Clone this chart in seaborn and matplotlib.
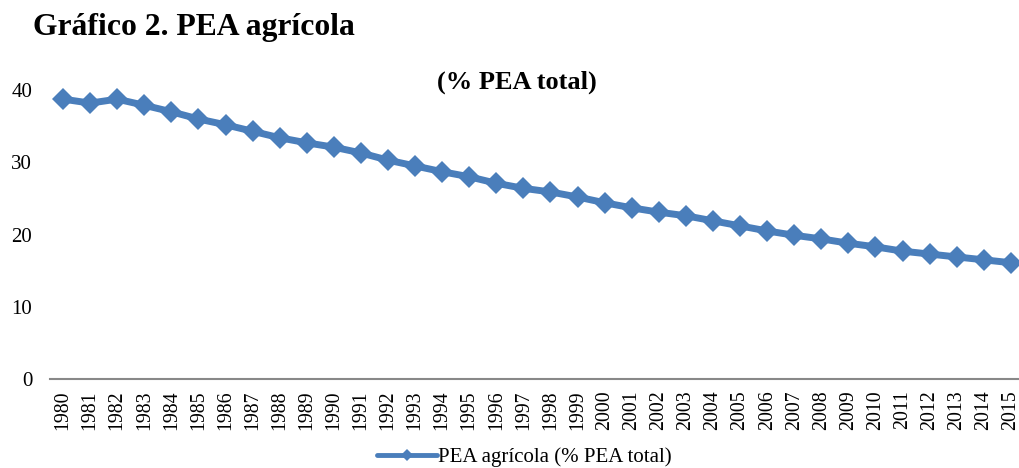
import matplotlib
matplotlib.use("Agg")
import matplotlib.pyplot as plt
import pandas as pd
import seaborn as sns

years = list(range(1980, 2016))
pea_agricola = [38.75, 38.2, 38.75, 37.9, 37.0, 36.0, 35.2, 34.3, 33.4, 32.7,
                32.1, 31.3, 30.3, 29.5, 28.7, 28.0, 27.1, 26.4, 25.9, 25.2,
                24.4, 23.7, 23.1, 22.6, 21.9, 21.2, 20.5, 19.9, 19.4, 18.8,
                18.3, 17.7, 17.3, 16.9, 16.5, 16.1]
serie = "PEA agrícola (% PEA total)"

df = pd.DataFrame({"anio": years, "valor": pea_agricola, "serie": serie})

sns.set_style("white", {"text.color": "black", "xtick.color": "black",
                        "ytick.color": "black"})
plt.rcParams['font.family'] = ['Liberation Serif', 'DejaVu Serif']

fig = plt.figure(figsize=(10.19, 4.68), dpi=100)
ax = fig.add_axes([49.5 / 1019, 1 - 379 / 468, (1019 - 49.5) / 1019, (379 - 54) / 468])

sns.lineplot(data=df, x="anio", y="valor", hue="serie", palette=["#4A7EBB"],
             marker="D", markersize=11, markeredgewidth=0, linewidth=5,
             ax=ax, legend=True)

ax.set_xlim(years[0] - 0.5, years[-1] + 0.3)
ax.set_ylim(0, 45)
ax.set_yticks([0, 10, 20, 30, 40])
ax.set_xticks(years)
ax.set_xticklabels([str(y) for y in years], rotation=90, fontsize=14.3)
ax.tick_params(axis="y", labelsize=15, length=0, pad=12.5, labelcolor="black")
ax.tick_params(axis="x", length=0, pad=8, labelcolor="black")
ax.set_xlabel("")
ax.set_ylabel("")
for s in ["top", "right", "left"]:
    ax.spines[s].set_visible(False)
ax.spines["bottom"].set_color("#888888")
ax.spines["bottom"].set_linewidth(1.5)

leg = ax.legend(loc="center", bbox_to_anchor=(0.49, 1 - (457 - 54) / (379 - 54)),
                frameon=False, fontsize=15, handlelength=2.9, handletextpad=0.05)
for h in leg.get_lines():
    h.set_linewidth(3.5)
    h.set_markersize(6)
for t in leg.get_texts():
    t.set_color("black")

fig.text(33 / 1019, 1 - 28 / 468, "Gráfico 2. PEA agrícola", fontsize=22.8,
         fontweight="bold", va="center", ha="left", color="black")
fig.text(517 / 1019, 1 - 82 / 468, "(% PEA total)", fontsize=19,
         fontweight="bold", va="center", ha="center", color="black")

plt.savefig("out.png", dpi=100)
